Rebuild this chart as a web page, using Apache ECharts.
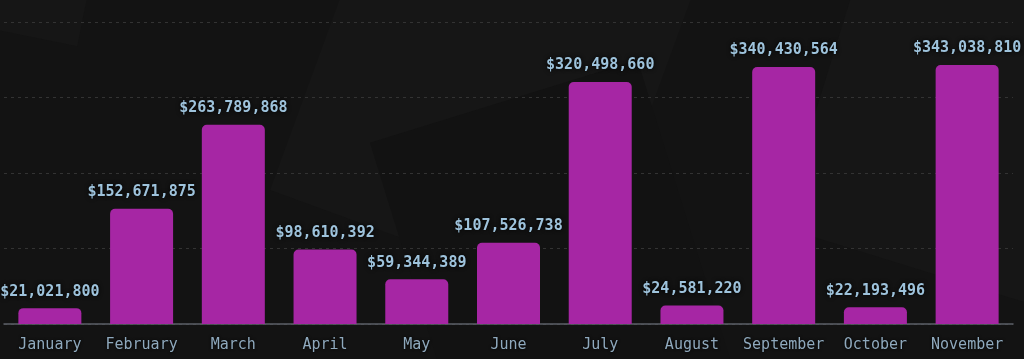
<!DOCTYPE html>
<html>
<head>
<meta charset="utf-8">
<script src="https://cdn.jsdelivr.net/npm/echarts@6/dist/echarts.min.js"></script>
<style>
html,body{margin:0;padding:0;background:#131313;}
#chart{width:1024px;height:359px;}
</style>
</head>
<body>
<div id="chart"></div>
<script>
const categories = ["January","February","March","April","May","June","July","August","September","October","November"];
const revenue = [21021800,152671875,263789868,98610392,59344389,107526738,320498660,24581220,340430564,22193496,343038810];
const yMin = 0, yMax = 400000000, yInterval = 100000000;

function fmt(v){ return '$' + v.toLocaleString('en-US'); }

const chart = echarts.init(document.getElementById('chart'), null, {renderer:'canvas'});
const font = '"DejaVu Sans Mono", "Liberation Mono", monospace';
chart.setOption({
  backgroundColor: '#131313',
  animation: false,
  graphic: [
    {type:'rect', z:-10, left:270, top:-120, shape:{width:330, height:330}, rotation:-0.35, style:{fill:'#161616'}},
    {type:'rect', z:-9, left:370, top:60, shape:{width:280, height:320}, rotation:0.3, style:{fill:'#121212'}},
    {type:'rect', z:-10, left:780, top:-60, shape:{width:300, height:300}, rotation:-0.3, style:{fill:'#161616'}},
    {type:'rect', z:-10, left:-60, top:-60, shape:{width:140, height:80}, rotation:-0.2, style:{fill:'#161616'}}
  ],
  grid: {left: 4, right: 11, top: 22, bottom: 35, containLabel: false},
  xAxis: {
    type: 'category',
    data: categories,
    axisLine: {show:true, lineStyle:{color:'#5c6068', width:1.5}},
    axisTick: {show:false},
    axisLabel: {color:'#8fa9bd', fontFamily: font, fontSize: 15, margin: 14,
      textShadowColor:'#000', textShadowBlur:3, interval:0}
  },
  yAxis: {
    type: 'value',
    min: yMin, max: yMax, interval: yInterval,
    axisLabel: {show:false},
    axisLine: {show:false},
    axisTick: {show:false},
    splitLine: {show:true, lineStyle:{color:'#333333', type:[3,4], width:1}}
  },
  series: [{
    type: 'bar',
    data: revenue,
    barWidth: 63,
    itemStyle: {color:'#a626a4', borderRadius:[5,5,0,0]},
    label: {
      show: true, position: 'top', distance: 9,
      formatter: p => fmt(p.value),
      color: '#9ec3dc', fontFamily: font, fontSize: 15, fontWeight: 'bold',
      textShadowColor:'#000', textShadowBlur:4
    }
  }]
});
</script>
</body>
</html>
